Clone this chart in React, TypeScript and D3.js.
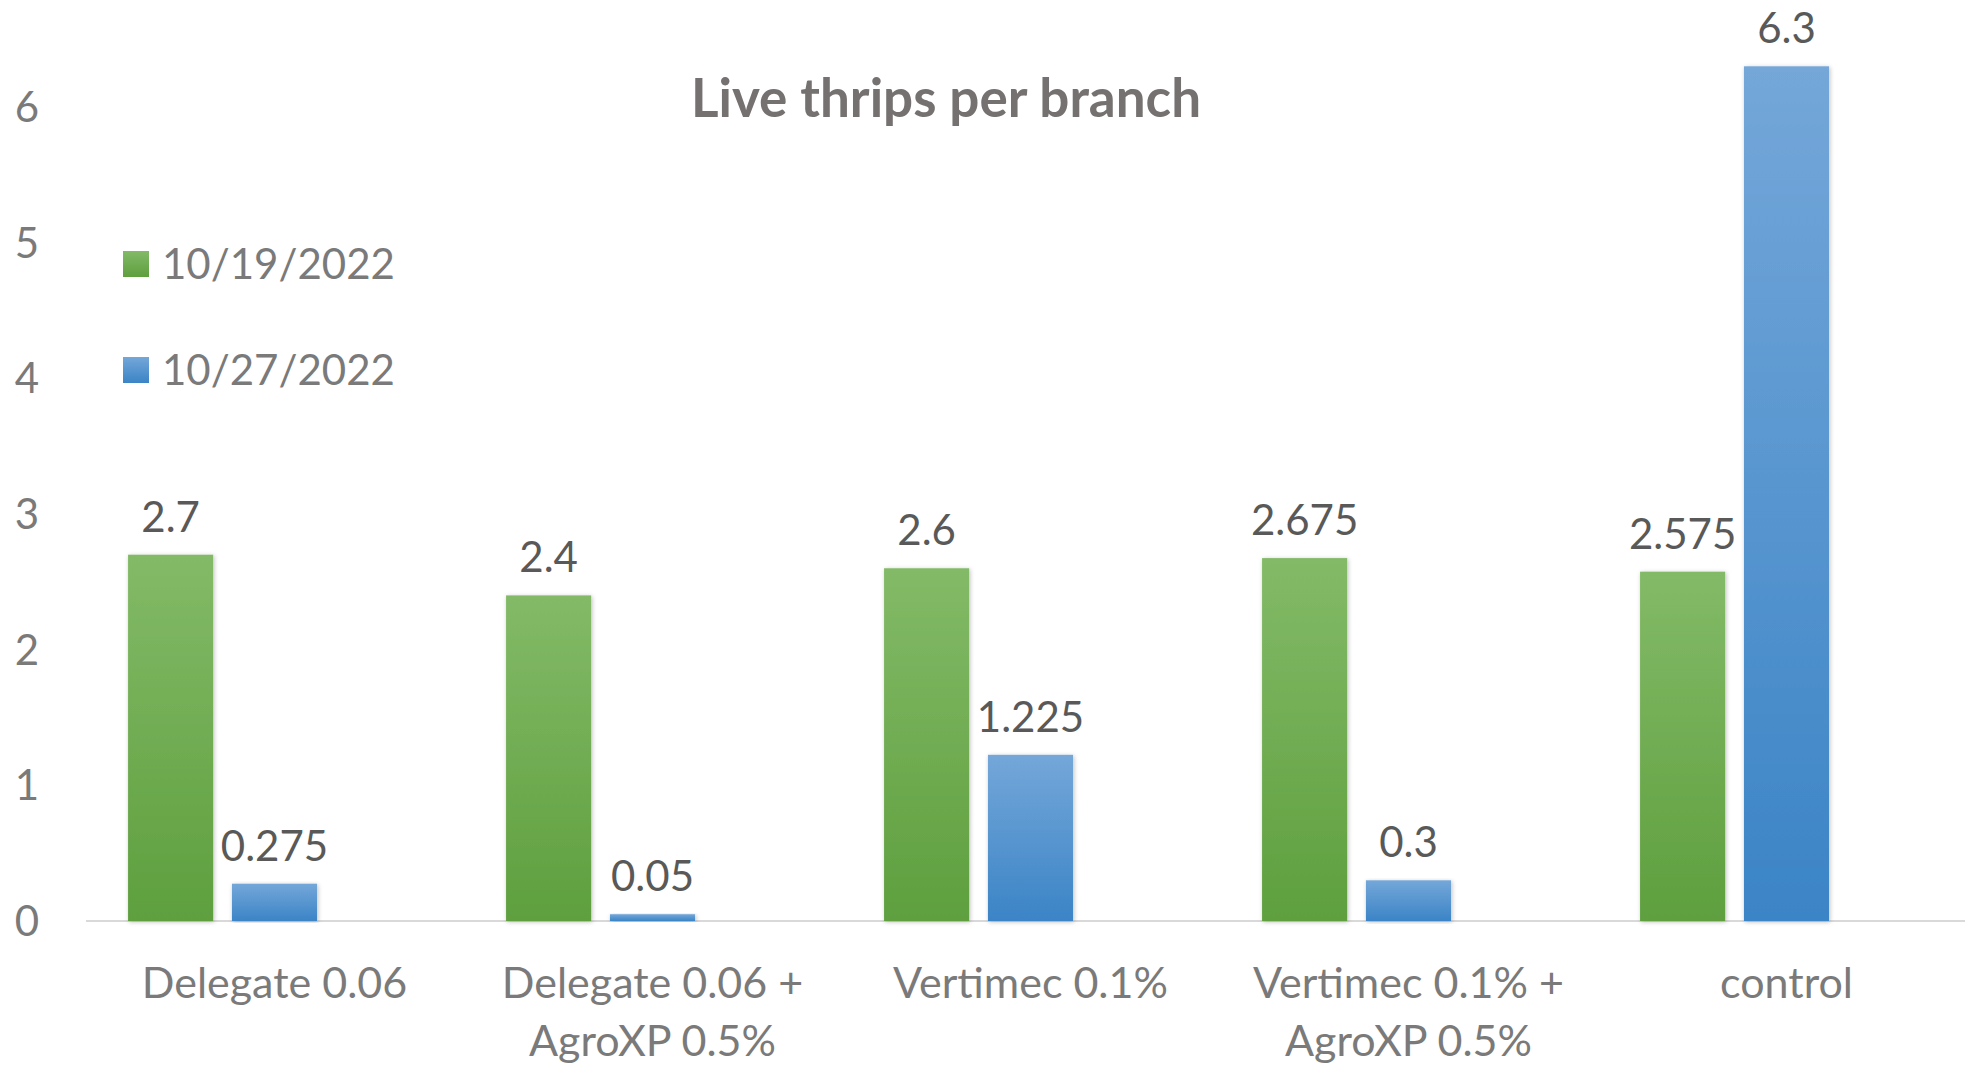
import React, { useRef, useEffect } from 'react';
import * as d3 from 'd3';

// chart values
const categories = ['Delegate 0.06', 'Delegate 0.06 + AgroXP 0.5%', 'Vertimec 0.1%', 'Vertimec 0.1% + AgroXP 0.5%', 'control'];
const categoryLines = [['Delegate 0.06'], ['Delegate 0.06 +', 'AgroXP 0.5%'], ['Vertimec 0.1%'], ['Vertimec 0.1% +', 'AgroXP 0.5%'], ['control']];
const seriesNames = ['10/19/2022', '10/27/2022'];
const valuesOct19 = [2.7, 2.4, 2.6, 2.675, 2.575];
const valuesOct27 = [0.275, 0.05, 1.225, 0.3, 6.3];
const yTicks = [0, 1, 2, 3, 4, 5, 6];
const title = 'Live thrips per branch';

const width = 1965;
const height = 1068;
const FONT = 'Lato, "Open Sans", sans-serif';

export default function App() {
  const ref = useRef<SVGSVGElement | null>(null);

  useEffect(() => {
    document.body.style.margin = '0';
    if (!ref.current) return;
    const svg = d3.select(ref.current);
    svg.selectAll('*').remove();

    const defs = svg.append('defs');
    const grads = [
      { id: 'gGreen', top: '#83ba67', bottom: '#5e9f3e' },
      { id: 'gBlue', top: '#74a7d9', bottom: '#3b84c6' },
    ];
    grads.forEach((g) => {
      const lg = defs.append('linearGradient').attr('id', g.id).attr('x1', 0).attr('y1', 0).attr('x2', 0).attr('y2', 1);
      lg.append('stop').attr('offset', '0%').attr('stop-color', g.top);
      lg.append('stop').attr('offset', '100%').attr('stop-color', g.bottom);
    });
    const shadow = defs.append('filter').attr('id', 'shadow').attr('x', '-20%').attr('y', '-5%').attr('width', '140%').attr('height', '110%');
    shadow.append('feDropShadow').attr('dx', 1).attr('dy', 1).attr('stdDeviation', 2).attr('flood-color', '#000').attr('flood-opacity', 0.25);

    svg.append('rect').attr('width', width).attr('height', height).attr('fill', '#ffffff');

    // scales
    const x = d3.scaleBand<string>().domain(categories).range([85.5, 1975.5]);
    // Excel-ish layout: 3 series slots (third empty), gap width 100%, small spacing between bars
    const slot = x.bandwidth() / (3 + 2 * 0.22 + 1);
    const barW = slot;
    const gap = slot * 0.22;
    const y = d3.scaleLinear().domain([0, 6]).range([921, 107]);

    // title
    svg.append('text')
      .attr('x', 946).attr('y', 117)
      .attr('text-anchor', 'middle')
      .attr('font-family', FONT).attr('font-weight', 700).attr('font-size', 53)
      .attr('fill', '#767171')
      .text(title);

    // y tick labels
    svg.append('g').selectAll('text')
      .data(yTicks).join('text')
      .attr('x', 39).attr('y', (d) => y(d))
      .attr('dy', '0.36em')
      .attr('text-anchor', 'end')
      .attr('font-family', FONT).attr('font-size', 42)
      .attr('fill', '#7a7a7a')
      .text((d) => String(d));

    // baseline
    svg.append('line')
      .attr('x1', 86).attr('x2', width)
      .attr('y1', y(0)).attr('y2', y(0))
      .attr('stroke', '#d9d9d9').attr('stroke-width', 2);

    const series = [
      { name: seriesNames[0], values: valuesOct19, fill: 'url(#gGreen)' },
      { name: seriesNames[1], values: valuesOct27, fill: 'url(#gBlue)' },
    ];

    series.forEach((s, si) => {
      const g = svg.append('g');
      const bx = (i: number) => (x(categories[i]) as number) + slot * 0.5 + si * (barW + gap);
      g.selectAll('rect')
        .data(s.values).join('rect')
        .attr('x', (_d, i) => bx(i))
        .attr('y', (d) => y(d))
        .attr('width', barW)
        .attr('height', (d) => y(0) - y(d))
        .attr('fill', s.fill)
        .attr('filter', 'url(#shadow)');
      g.selectAll('text')
        .data(s.values).join('text')
        .attr('x', (_d, i) => bx(i) + barW / 2)
        .attr('y', (d) => y(d) - 23)
        .attr('text-anchor', 'middle')
        .attr('font-family', FONT).attr('font-size', 42)
        .attr('fill', '#595959')
        .text((d) => String(d));
    });

    // category labels
    const cat = svg.append('g');
    categories.forEach((c, i) => {
      const cx = (x(c) as number) + x.bandwidth() / 2;
      const t = cat.append('text')
        .attr('text-anchor', 'middle')
        .attr('font-family', FONT).attr('font-size', 43)
        .attr('fill', '#7a7a7a');
      categoryLines[i].forEach((line, li) => {
        t.append('tspan').attr('x', cx).attr('y', 998 + li * 58).text(line);
      });
    });

    // legend
    const legend = svg.append('g');
    series.forEach((s, i) => {
      const ly = 264 + i * 106;
      legend.append('rect')
        .attr('x', 123).attr('y', ly - 13)
        .attr('width', 26).attr('height', 26)
        .attr('fill', s.fill);
      legend.append('text')
        .attr('x', 162).attr('y', ly)
        .attr('dy', '0.36em')
        .attr('font-family', FONT).attr('font-size', 42)
        .attr('fill', '#7a7a7a')
        .text(s.name);
    });
  }, []);

  return (
    <svg
      ref={ref}
      width={width}
      height={height}
      style={{ display: 'block' }}
      aria-label="Live thrips per branch bar chart"
    />
  );
}
